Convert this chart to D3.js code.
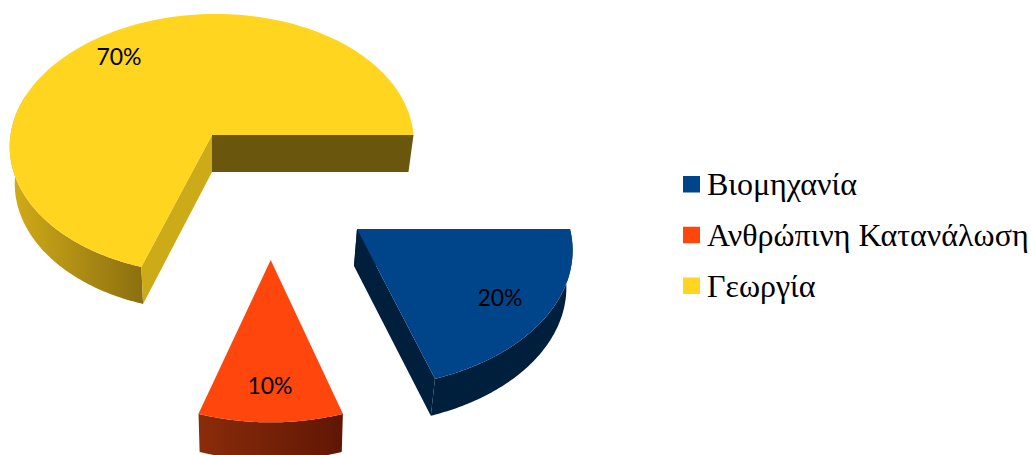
<!DOCTYPE html>
<html>
<head>
<meta charset="utf-8">
<script src="https://cdn.jsdelivr.net/npm/d3@7/dist/d3.min.js"></script>
<style>
  html, body { margin: 0; padding: 0; background: #fff; overflow: hidden; }
  svg { display: block; }
</style>
</head>
<body>
<svg id="chart" width="1031" height="455"></svg>
<script>
// Chart content
const categories = ["Βιομηχανία", "Ανθρώπινη Κατανάλωση", "Γεωργία"];
const shares = [20, 10, 70];

// Styling per category
const topColors = ["#00458A", "#FF460D", "#FFD51F"];
const cutColors = ["#001F3D", "#6A1805", "#CDAB18"];
const wallStops = [["#001F3D", "#001F3D"], ["#8A2C0A", "#601605"], ["#D2AC18", "#8C7010"]];

// Exploded-pie geometry: apex, radius, tilt, perspective and extrusion of each wedge
const apexX = [357, 270.7, 212];
const apexY = [229, 260, 135];
const radius = [213, 218, 201.5];
const depthRadius = [135, 151, 129.5];
const perspective = [0.15, 0.07, 0.07];
const shear = [0.008, 0, -0.03];
const wallDrop = [37, 38, 37];
const wallShift = [-3, 0, 0];
const wallScale = [0.985, 0.985, 0.975];
const labelX = [500, 270, 119];
const labelY = [298, 386, 57];

const svg = d3.select("#chart");
const defs = svg.append("defs");

const pie = d3.pie().sort(null).startAngle(Math.PI / 2).endAngle(Math.PI / 2 + 2 * Math.PI);
const wedges = pie(shares);

// Projects a pie angle on the tilted disc of wedge i to the screen
function project(i, angle, lower) {
  const x = Math.sin(angle), z = -Math.cos(angle);
  const s = 1 / (1 - perspective[i] * z);
  const dy = depthRadius[i] * z * s;
  const dx = radius[i] * x * s + shear[i] * dy;
  if (!lower) return [apexX[i] + dx, apexY[i] + dy];
  return [apexX[i] + wallShift[i] + dx * wallScale[i], apexY[i] + wallDrop[i] + dy];
}
const apex = (i, lower) => lower
  ? [apexX[i] + wallShift[i], apexY[i] + wallDrop[i]]
  : [apexX[i], apexY[i]];

const line = d3.line();
const arcPoints = (i, a0, a1, lower) =>
  d3.range(0, 121).map(k => project(i, a0 + (a1 - a0) * k / 120, lower));

// Draw back to front: yellow, blue, orange
[2, 0, 1].forEach(i => {
  const w = wedges[i];
  const g = svg.append("g").attr("class", "wedge");

  // Outer rim, only the part facing the viewer
  const rimEnd = Math.min(w.endAngle, 1.6 * Math.PI);
  const rimTop = arcPoints(i, w.startAngle, rimEnd, false);
  const rimLow = arcPoints(i, w.startAngle, rimEnd, true);
  const xs = rimTop.map(p => p[0]);
  const gradId = "rim" + i;
  const grad = defs.append("linearGradient").attr("id", gradId)
    .attr("gradientUnits", "userSpaceOnUse")
    .attr("x1", d3.max(xs)).attr("x2", d3.min(xs)).attr("y1", 0).attr("y2", 0);
  grad.append("stop").attr("offset", 0).attr("stop-color", wallStops[i][1]);
  grad.append("stop").attr("offset", 1).attr("stop-color", wallStops[i][0]);
  g.append("path")
    .attr("d", line(rimTop.concat(rimLow.slice().reverse())) + "Z")
    .attr("fill", `url(#${gradId})`);

  // Flat cut faces of the wedge
  [[w.startAngle, i === 2 ? cutColors[2] : cutColors[i]], [w.endAngle, i === 2 ? "#6A560C" : cutColors[i]]]
    .forEach(([angle, color]) => {
      if (i === 1) return;
      g.append("path")
        .attr("d", line([apex(i), project(i, angle, false), project(i, angle, true), apex(i, true)]) + "Z")
        .attr("fill", color);
    });

  // Top face
  g.append("path")
    .attr("d", line([apex(i)].concat(arcPoints(i, w.startAngle, w.endAngle, false))) + "Z")
    .attr("fill", topColors[i]);
});

// Percentage labels
svg.append("g").selectAll("text").data(shares).join("text")
  .attr("x", (d, i) => labelX[i])
  .attr("y", (d, i) => labelY[i])
  .attr("dy", "0.35em")
  .attr("text-anchor", "middle")
  .attr("font-family", "Lato, 'Open Sans', sans-serif")
  .attr("font-size", 23)
  .attr("fill", "#000")
  .text(d => d + "%");

// Legend
const legendY = d3.scalePoint().domain(categories).range([184, 285.5]);
const legend = svg.append("g").selectAll("g").data(categories).join("g")
  .attr("transform", d => `translate(683,${legendY(d)})`);
legend.append("rect")
  .attr("x", 0).attr("y", -8).attr("width", 17).attr("height", 16.5)
  .attr("fill", (d, i) => topColors[i]);
legend.append("text")
  .attr("x", 24).attr("y", 11)
  .attr("font-family", "'Liberation Serif', serif")
  .attr("font-size", 32)
  .attr("fill", "#000")
  .text(d => d);
</script>
</body>
</html>
